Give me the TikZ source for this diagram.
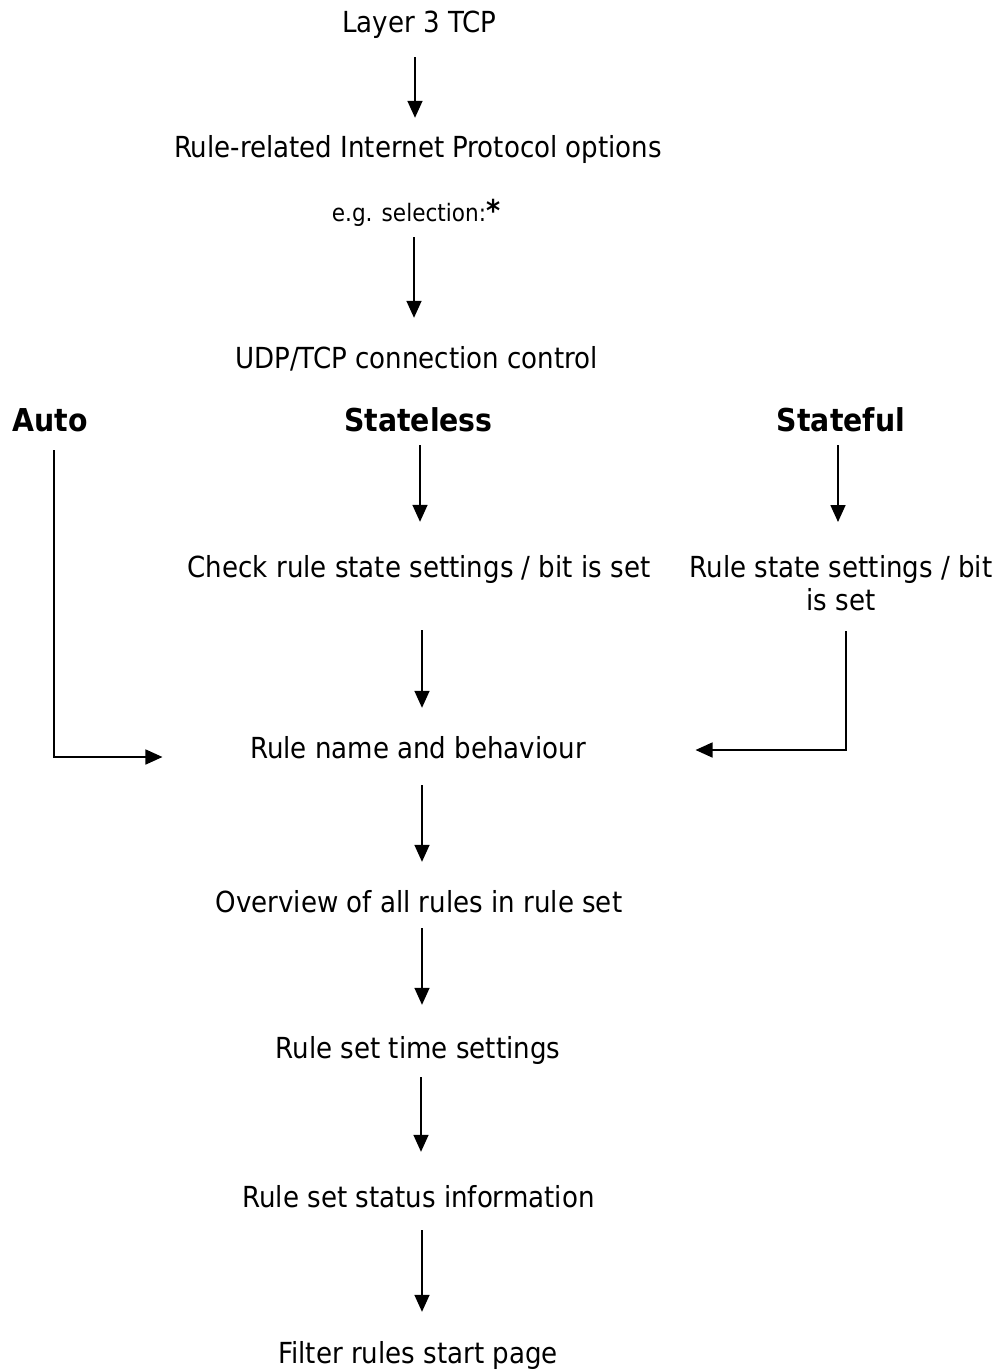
\documentclass[tikz,border=0pt]{standalone}
\usepackage{fontspec}
\setmainfont{DejaVu Sans Condensed}
\usetikzlibrary{arrows.meta}
\begin{document}
\begin{tikzpicture}[x=1pt,y=-1pt,
  lbl/.style={inner sep=0pt,anchor=base,text height=22pt,text depth=6pt,font=\fontsize{29}{33}\selectfont},
  two/.style={inner sep=0pt,anchor=north,align=center,font=\fontsize{29}{33.5}\selectfont},
  hd/.style={inner sep=0pt,anchor=base,text height=24pt,text depth=7pt,font=\fontsize{31.5}{36}\selectfont\bfseries},
  sm/.style={inner sep=0pt,anchor=base,text height=18pt,text depth=5pt,font=\fontsize{24}{28}\selectfont},
  arr/.style={line width=1.6pt,-{Triangle[length=17pt,width=15pt]}}]
\useasboundingbox (0,0) rectangle (1006,1371);
\node[lbl] (l3) at (419.5,32) {Layer 3 TCP};
\node[lbl] (ip) at (418,157) {Rule-related Internet Protocol options};
\node[sm] (eg) at (416,221) {e.g. selection:{\bfseries\fontsize{30}{30}\selectfont *}};
\node[lbl] (udp) at (416.5,368) {UDP/TCP connection control};
\node[hd] (auto) at (50,431) {Auto};
\node[hd] (sl) at (418.5,431) {Stateless};
\node[hd] (sf) at (841,431) {Stateful};
\node[lbl] (chk) at (419,577) {Check rule state settings / bit is set};
\node[two] (rs) at (841,555) {Rule state settings / bit\\is set};
\node[lbl] (rn) at (418,758) {Rule name and behaviour};
\node[lbl] (ov) at (419,912) {Overview of all rules in rule set};
\node[lbl] (ts) at (418,1058) {Rule set time settings};
\node[lbl] (si) at (418.5,1207) {Rule set status information};
\node[lbl] (fr) at (418,1363) {Filter rules start page};

\draw[arr,shorten <=19pt,shorten >=17pt] ([xshift=-4.5pt]l3.south) -- ([xshift=-4.5pt]l3.south |- ip.north);
\draw[arr,shorten <=11pt,shorten >=28pt] ([xshift=-2pt]eg.south) -- ([xshift=-2pt]eg.south |- udp.north);
\draw[arr,shorten <=7pt,shorten >=33pt] ([xshift=1.5pt]sl.south) -- ([xshift=1.5pt]sl.south |- chk.north);
\draw[arr,shorten <=7pt,shorten >=33pt] ([xshift=-3pt]sf.south) -- ([xshift=-3pt]sf.south |- rs.north);
\draw[arr,shorten <=47pt,shorten >=28pt] ([xshift=3pt]chk.south) -- ([xshift=3pt]chk.south |- rn.north);
\draw[arr,shorten <=21pt,shorten >=28pt] ([xshift=4pt]rn.south) -- ([xshift=4pt]rn.south |- ov.north);
\draw[arr,shorten <=10pt,shorten >=31pt] ([xshift=3pt]ov.south) -- ([xshift=3pt]ov.south |- ts.north);
\draw[arr,shorten <=13pt,shorten >=33pt] ([xshift=3pt]ts.south) -- ([xshift=3pt]ts.south |- si.north);
\draw[arr,shorten <=17pt,shorten >=29pt] ([xshift=3.5pt]si.south) -- ([xshift=3.5pt]si.south |- fr.north);
\draw[arr,shorten <=12pt,shorten >=87.5pt] ([xshift=4pt]auto.south) |- ([yshift=-7pt]rn.west);
\draw[arr,shorten <=20pt,shorten >=109.5pt] ([xshift=5pt]rs.south) |- (rn.east);
\end{tikzpicture}
\end{document}
